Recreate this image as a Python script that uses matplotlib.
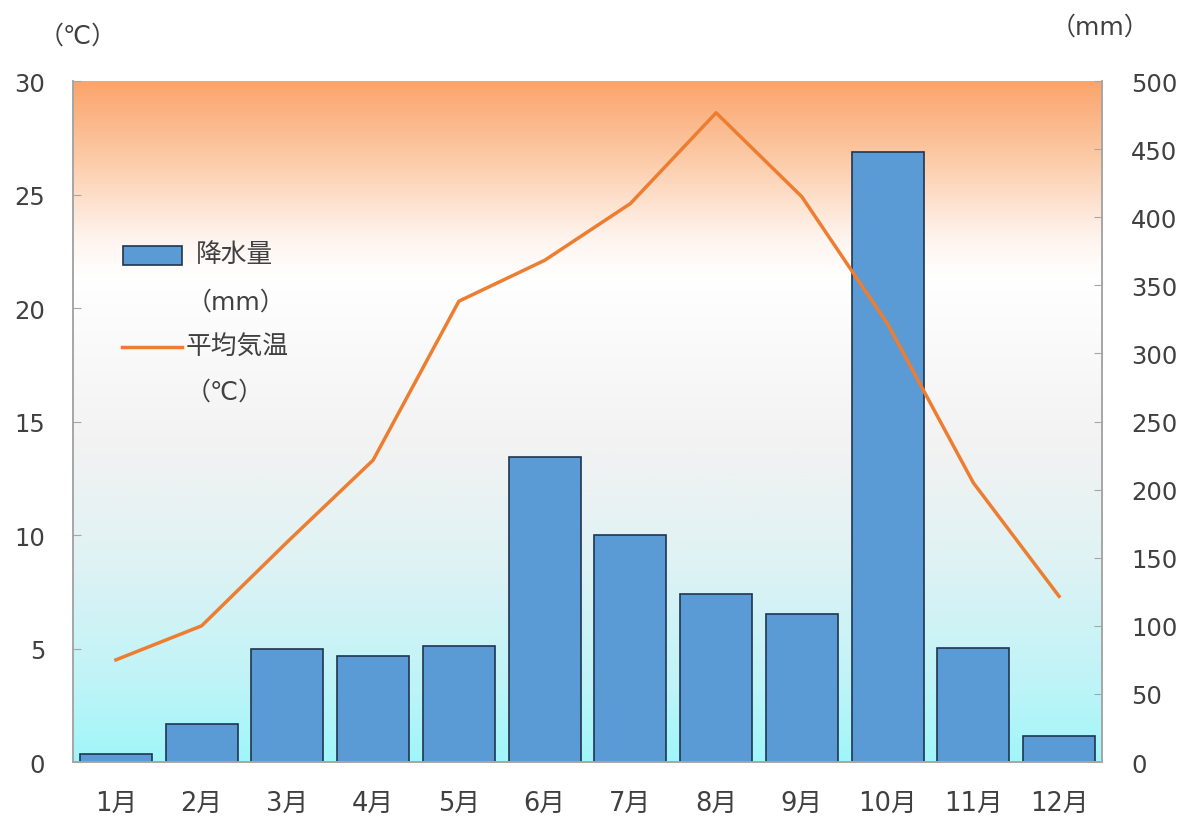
import numpy as np
import matplotlib
matplotlib.use('Agg')
import matplotlib.pyplot as plt
from matplotlib.colors import LinearSegmentedColormap
from matplotlib.patches import Rectangle
from matplotlib.lines import Line2D

plt.rcParams['font.family'] = ['DejaVu Sans', 'Noto Sans CJK JP']

months = ['1月', '2月', '3月', '4月', '5月', '6月', '7月', '8月', '9月', '10月', '11月', '12月']
precip = [6, 28, 83, 78, 85, 224, 167, 123, 109, 448, 84, 19]
temp = [4.5, 6.0, 9.7, 13.3, 20.3, 22.1, 24.6, 28.6, 24.9, 19.3, 12.3, 7.3]

txt = '#404040'
spine_c = '#A6A6A6'

fig = plt.figure(figsize=(11.84, 8.2), dpi=100)
ax = fig.add_axes([0.0617, 0.0695, 0.869, 0.8305])
ax2 = ax.twinx()

# gradient background
bg = LinearSegmentedColormap.from_list('bg', [
    (0.0, '#A0F6F9'), (0.12, '#C0F4F7'), (0.30, '#E0F2F4'), (0.46, '#F2F2F2'),
    (0.71, '#FFFFFF'), (0.77, '#FEF4EE'), (0.885, '#FCCBA8'), (1.0, '#FBA46B')])
grad = np.linspace(0, 1, 256).reshape(-1, 1)
ax2.imshow(grad, extent=[0, 1, 0, 1], transform=ax2.transAxes, origin='lower',
           aspect='auto', cmap=bg, zorder=0)

x = np.arange(len(months))
ax2.bar(x, precip, width=0.84, color='#5B9BD5', edgecolor='#1F3550', linewidth=1.2, zorder=2)
ax.plot(x, temp, color='#ED7D31', linewidth=2.5, zorder=3)

ax.set_zorder(ax2.get_zorder() + 1)
ax.patch.set_visible(False)

ax.set_xlim(-0.5, 11.5)
ax.set_ylim(0, 30)
ax2.set_ylim(0, 500)
ax.set_yticks(range(0, 31, 5))
ax2.set_yticks(range(0, 501, 50))
ax.set_xticks(x)
ax.set_xticklabels(months)

ax.tick_params(axis='y', direction='in', length=6, color=spine_c, pad=20, labelsize=17.5, labelcolor=txt)
ax2.tick_params(axis='y', direction='in', length=6, color=spine_c, pad=21, labelsize=17.5, labelcolor=txt)
ax.tick_params(axis='x', length=0, pad=20, labelsize=18.5, labelcolor=txt)

for a in (ax, ax2):
    a.spines['top'].set_visible(False)
    for s in ('left', 'right', 'bottom'):
        a.spines[s].set_color(spine_c)
        a.spines[s].set_linewidth(1.2)

# unit labels
fig.text(78 / 1184, 1 - 37 / 820, '（℃）', ha='center', va='center', fontsize=18, color=txt)
fig.text(1100 / 1184, 1 - 28 / 820, '（mm）', ha='center', va='center', fontsize=18, color=txt)

# legend
ax.add_patch(Rectangle((0.0486, 0.730), 0.0573, 0.028, transform=ax.transAxes,
                       facecolor='#5B9BD5', edgecolor='#1F3550', linewidth=1.2, zorder=5))
ax.text((196 - 73) / 1029, 0.746, '降水量', transform=ax.transAxes, ha='left', va='center',
        fontsize=18.5, color=txt)
ax.text((236 - 73) / 1029, (763 - 303) / 681, '（mm）', transform=ax.transAxes, ha='center', va='center',
        fontsize=18, color=txt)
ax.add_line(Line2D([(122 - 73) / 1029, (182 - 73) / 1029], [(763 - 348) / 681] * 2,
                   transform=ax.transAxes, color='#ED7D31', linewidth=2.5))
ax.text((186 - 73) / 1029, (763 - 348) / 681, '平均気温', transform=ax.transAxes, ha='left', va='center',
        fontsize=18.5, color=txt)
ax.text((225 - 73) / 1029, (763 - 393) / 681, '（℃）', transform=ax.transAxes, ha='center', va='center',
        fontsize=18, color=txt)

fig.savefig('out.png', dpi=100)
